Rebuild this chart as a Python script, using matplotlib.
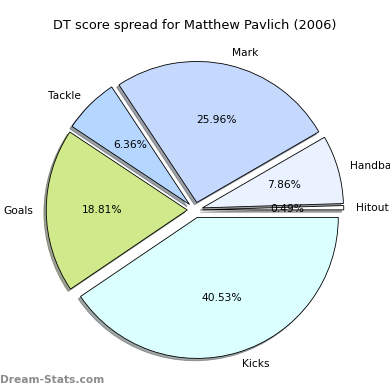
import matplotlib
matplotlib.use('Agg')
import matplotlib.pyplot as plt

# 파이 순서: 0도에서 반시계 방향
labels = ['Hitout', 'Handball', 'Mark', 'Tackle', 'Goals', 'Kicks']
shares = [0.49, 7.86, 25.96, 6.36, 18.81, 40.53]
colors = ['#ffffff', '#eaf1ff', '#c5d9ff', '#b5d6ff', '#d0ea8b', '#dbffff']

plt.rcParams['font.family'] = 'DejaVu Sans'
plt.rcParams['font.size'] = 12.8

W = 390
cx, cy, r = 195, 210, 141  # pixel 기준 중심/반지름

fig = plt.figure(figsize=(6.5, 6.5), dpi=60)
ax = fig.add_axes([0, 0, 1, 1])
ax.pie(shares, labels=labels, colors=colors, explode=[0.055] * len(shares),
       autopct='%1.2f%%', shadow=True, startangle=0, labeldistance=1.09,
       wedgeprops={'edgecolor': 'black', 'linewidth': 1})
ax.set_xlim(-cx / r, (W - cx) / r)
ax.set_ylim(-(W - cy) / r, cy / r)
ax.axis('off')

fig.text(0.5, 1 - 25 / W, 'DT score spread for Matthew Pavlich (2006)',
         ha='center', va='center', fontsize=15.5)
fig.text(0.0, 1 - 380 / W, 'Dream-Stats.com', ha='left', va='center',
         fontsize=12.7, fontweight='bold', color='#8c8c8c')

plt.savefig('out.png', dpi=60)
